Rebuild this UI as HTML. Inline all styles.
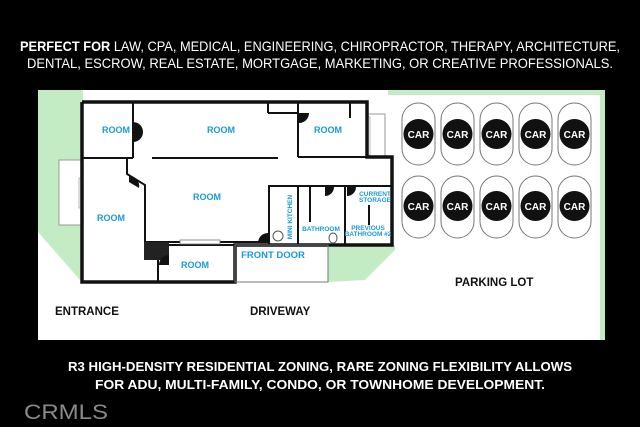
<!DOCTYPE html>
<html><head><meta charset="utf-8"><style>
html,body{margin:0;padding:0;background:#000;width:640px;height:427px;overflow:hidden}
svg{display:block}
text{font-family:"Liberation Sans",sans-serif}
</style></head><body>
<svg width="640" height="427" viewBox="0 0 640 427" xmlns="http://www.w3.org/2000/svg">
<rect width="640" height="427" fill="#000"/>
<text x="320" y="51" fill="#fff" font-size="14" textLength="600" lengthAdjust="spacingAndGlyphs" text-anchor="middle"><tspan font-weight="bold">PERFECT FOR</tspan> LAW, CPA, MEDICAL, ENGINEERING, CHIROPRACTOR, THERAPY, ARCHITECTURE,</text>
<text x="320" y="68" fill="#fff" font-size="14" textLength="586" lengthAdjust="spacingAndGlyphs" text-anchor="middle">DENTAL, ESCROW, REAL ESTATE, MORTGAGE, MARKETING, OR CREATIVE PROFESSIONALS.</text>
<!-- site -->
<rect x="38" y="90" width="567" height="250" fill="#fff"/>
<polygon points="38,90 83,90 83,280 80,280 38,232" fill="#c4ecc4"/>
<rect x="388" y="90" width="217" height="5" fill="#c4ecc4"/>
<rect x="600" y="90" width="5" height="250" fill="#c4ecc4"/>
<polygon points="328,245 395,245 395,250 365,280 328,282" fill="#c4ecc4"/>
<!-- windows -->
<rect x="59" y="160" width="23" height="65" fill="#fff" stroke="#999" stroke-width="1"/>
<rect x="79" y="178" width="3" height="30" fill="#fff" stroke="#999" stroke-width="0.7"/>
<rect x="367" y="114" width="18" height="43" fill="#fff" stroke="#999" stroke-width="1"/>
<rect x="367" y="117" width="3" height="38" fill="#fff" stroke="#999" stroke-width="0.7"/>
<!-- building -->
<g stroke="#111" fill="none" stroke-width="3.5">
<polyline points="82,102 367,102 367,157 392,157 392,245 235,245 235,282 82,282 82,102"/>
</g>
<g stroke="#111" fill="none" stroke-width="2">
<line x1="133" y1="102" x2="133" y2="158"/>
<line x1="82" y1="158" x2="133" y2="158"/>
<polyline points="127,159 127,174 145,185 145,242"/>
<line x1="152" y1="158" x2="278" y2="158"/>
<line x1="298" y1="102" x2="298" y2="157"/>
<line x1="298" y1="157" x2="367" y2="157"/>
<line x1="268" y1="102" x2="268" y2="113"/>
<line x1="268" y1="113" x2="298" y2="113"/>
<line x1="350" y1="102" x2="350" y2="118"/>
<line x1="269" y1="185" x2="269" y2="245"/>
<line x1="270" y1="186" x2="392" y2="186"/>
<line x1="298" y1="186" x2="298" y2="245"/>
<line x1="345" y1="186" x2="345" y2="245"/>
<line x1="310" y1="186" x2="310" y2="222"/>
<line x1="145" y1="242" x2="269" y2="242"/>
<line x1="158" y1="245" x2="158" y2="282"/>
<line x1="158" y1="245" x2="235" y2="245"/>
<line x1="369" y1="205" x2="369" y2="225"/>
</g>
<rect x="235" y="245" width="93" height="37" fill="none" stroke="#777" stroke-width="1"/>
<rect x="144" y="242" width="25" height="18" fill="#222"/>
<rect x="180" y="240" width="40" height="4" fill="#fff" stroke="#777" stroke-width="0.8"/>
<!-- door swings -->
<g fill="#111">
<path d="M133,122 a10,10 0 0 1 0,20 z"/>
<path d="M129,176 a10,10 0 0 1 10,12 l-10,-6 z"/>
<path d="M299,113 l0,10 a10,10 0 0 0 10,-10 z"/>
<path d="M258,243 a10,10 0 0 1 10,-10 l0,10 z"/>
<path d="M325,187 l0,9 a9,9 0 0 0 9,-9 z"/>
<path d="M347,187 l0,9 a9,9 0 0 0 9,-9 z"/>
<path d="M159,265 a10,10 0 0 1 10,-10 l0,10 z"/>
</g>
<ellipse cx="278" cy="236" rx="5" ry="5" fill="none" stroke="#555" stroke-width="1"/>
<ellipse cx="333" cy="238" rx="4" ry="5" fill="none" stroke="#555" stroke-width="1"/>
<!-- labels -->
<g fill="#1a9ad6" font-weight="bold" font-size="9" text-anchor="middle">
<text x="116" y="133">ROOM</text>
<text x="221" y="133">ROOM</text>
<text x="328" y="133">ROOM</text>
<text x="207" y="200">ROOM</text>
<text x="111" y="221">ROOM</text>
<text x="195" y="268">ROOM</text>
<text x="273" y="258" font-size="9.5">FRONT DOOR</text>
<text x="321" y="231" font-size="6.5">BATHROOM</text>
<text x="375" y="196" font-size="6.5">CURRENT</text>
<text x="375" y="202" font-size="6.5">STORAGE</text>
<text x="368" y="230" font-size="6.5">PREVIOUS</text>
<text x="368" y="236" font-size="6.5">BATHROOM #2</text>
<text transform="translate(292,217) rotate(-90)" font-size="6.5">MINI KITCHEN</text>
</g>
<!-- cars -->
<g id="cars">
<g fill="#fff" stroke="#777" stroke-width="1">
<rect x="402" y="103" width="33" height="62" rx="16.5"/><rect x="441" y="103" width="33" height="62" rx="16.5"/><rect x="480" y="103" width="33" height="62" rx="16.5"/><rect x="519" y="103" width="33" height="62" rx="16.5"/><rect x="558" y="103" width="33" height="62" rx="16.5"/>
<rect x="402" y="176" width="33" height="62" rx="16.5"/><rect x="441" y="176" width="33" height="62" rx="16.5"/><rect x="480" y="176" width="33" height="62" rx="16.5"/><rect x="519" y="176" width="33" height="62" rx="16.5"/><rect x="558" y="176" width="33" height="62" rx="16.5"/>
</g>
<g fill="#111">
<circle cx="418.5" cy="134" r="15"/><circle cx="457.5" cy="134" r="15"/><circle cx="496.5" cy="134" r="15"/><circle cx="535.5" cy="134" r="15"/><circle cx="574.5" cy="134" r="15"/>
<circle cx="418.5" cy="206" r="15"/><circle cx="457.5" cy="206" r="15"/><circle cx="496.5" cy="206" r="15"/><circle cx="535.5" cy="206" r="15"/><circle cx="574.5" cy="206" r="15"/>
</g>
<g fill="#fff" font-weight="bold" font-size="10" text-anchor="middle">
<text x="418.5" y="138">CAR</text><text x="457.5" y="138">CAR</text><text x="496.5" y="138">CAR</text><text x="535.5" y="138">CAR</text><text x="574.5" y="138">CAR</text>
<text x="418.5" y="210">CAR</text><text x="457.5" y="210">CAR</text><text x="496.5" y="210">CAR</text><text x="535.5" y="210">CAR</text><text x="574.5" y="210">CAR</text>
</g>
</g>
<g fill="#111" font-weight="bold" font-size="11.5">
<text x="455" y="286">PARKING LOT</text>
<text x="55" y="315">ENTRANCE</text>
<text x="250" y="315">DRIVEWAY</text>
</g>
<text x="320" y="371" fill="#fff" font-weight="bold" font-size="13" textLength="504" lengthAdjust="spacingAndGlyphs" text-anchor="middle">R3 HIGH-DENSITY RESIDENTIAL ZONING, RARE ZONING FLEXIBILITY ALLOWS</text>
<text x="320" y="389" fill="#fff" font-weight="bold" font-size="13" textLength="450" lengthAdjust="spacingAndGlyphs" text-anchor="middle">FOR ADU, MULTI-FAMILY, CONDO, OR TOWNHOME DEVELOPMENT.</text>
<text x="24" y="419" fill="#8a8a8a" font-size="21" textLength="84" lengthAdjust="spacingAndGlyphs">CRMLS</text>
</svg>
</body></html>
